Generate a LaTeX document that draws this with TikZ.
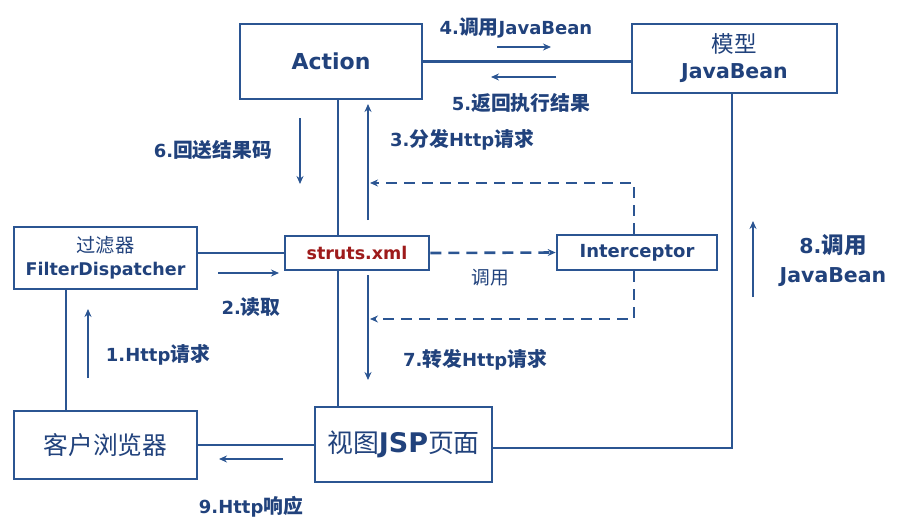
\documentclass[tikz,border=0pt]{standalone}
\usepackage{fontspec}
\setmainfont{DejaVu Sans}
\newfontfamily\cjk{Noto Sans CJK SC}[Scale=1.1]
\usepackage{xcolor}
\usetikzlibrary{arrows.meta,positioning}
\definecolor{lineblue}{HTML}{2B5592}
\definecolor{textblue}{HTML}{21427C}
\definecolor{xmlred}{HTML}{9E1B1B}
\newcommand{\zh}[1]{{\cjk #1}}

\begin{document}
\begin{tikzpicture}[x=1pt, y=-1pt,
  box/.style={draw=lineblue, line width=2.6pt, fill=white, inner sep=0pt, align=center, text=textblue},
  lbl/.style={text=textblue, font=\fontsize{18}{28}\selectfont\bfseries, align=center},
  link/.style={lineblue, line width=2.6pt},
  flow/.style={lineblue, line width=2.2pt, -{Stealth[length=8pt,width=7pt]}},
  dashflow/.style={lineblue, line width=2.6pt, dash pattern=on 11pt off 7pt, -{Stealth[length=8pt,width=7pt]}}]
  \useasboundingbox (0,0) rectangle (900,527);

  % boxes
  \node[box, minimum width=182pt, minimum height=75pt, font=\fontsize{22}{26}\selectfont\bfseries] (action) at (331,61.5) {Action};
  \node[box, minimum width=205pt, minimum height=69pt, font=\fontsize{20.5}{26}\selectfont] (model) at (734.5,58.5) {\zh{模型}\\\textbf{JavaBean}};
  \node[box, minimum width=183pt, minimum height=62pt, font=\fontsize{17.5}{23}\selectfont] (filter) at (105.5,258) {\zh{过滤器}\\\textbf{FilterDispatcher}};
  \node[box, minimum width=144pt, minimum height=34pt, text=xmlred, font=\fontsize{17.5}{20}\selectfont\bfseries] (struts) at (357,253) {struts.xml};
  \node[box, minimum width=160pt, minimum height=35pt, font=\fontsize{18}{20}\selectfont\bfseries] (inter) at (637,252.5) {Interceptor};
  \node[box, minimum width=183pt, minimum height=68pt, font=\fontsize{22.5}{24}\selectfont] (browser) at (105.5,445) {\zh{客户浏览器}};
  \node[box, minimum width=177pt, minimum height=75pt, font=\fontsize{23.5}{26}\selectfont] (jsp) at (403.5,444.5) {\zh{视图}\textbf{\fontsize{27}{30}\selectfont JSP}\zh{页面}};

  % links between boxes
  \draw[link] (action.east) -- (action.east -| model.west);
  \draw[link] (struts.west -| filter.east) -- (struts.west);
  \draw[link] (browser.east) -- (browser.east -| jsp.west);
  \coordinate (spine) at (338,0);
  \draw[link] (spine |- action.south) -- (spine |- struts.north);
  \draw[link] (spine |- struts.south) -- (spine |- jsp.north);
  \coordinate (lspine) at (66,0);
  \draw[link] (lspine |- filter.south) -- (lspine |- browser.north);
  \coordinate (rspine) at (732,448);
  \draw[link] (rspine |- model.south) -- (rspine) -- (rspine -| jsp.east);

  % interceptor loop
  \draw[dashflow] (struts.east) -- (inter.west);
  \coordinate (looptop) at (370,183);
  \coordinate (loopbot) at (370,319);
  \draw[dashflow] ([xshift=-3pt]inter.north) |- (looptop);
  \draw[dashflow] ([xshift=-3pt]inter.south) |- (loopbot);

  % numbered steps
  \coordinate (s1) at (88,378);  \coordinate (e1) at (88,309);
  \coordinate (s2) at (218,273); \coordinate (e2) at (279,273);
  \coordinate (s3) at (368,220); \coordinate (e3) at (368,104);
  \coordinate (s4) at (497,47);  \coordinate (e4) at (551,47);
  \coordinate (s5) at (556,77);  \coordinate (e5) at (491,77);
  \coordinate (s6) at (300,118); \coordinate (e6) at (300,184);
  \coordinate (s7) at (368,275); \coordinate (e7) at (368,380);
  \coordinate (s8) at (753,297); \coordinate (e8) at (753,221);
  \coordinate (s9) at (283,459); \coordinate (e9) at (219,459);
  \foreach \i in {1,...,9}
    \draw[flow] (s\i) -- (e\i);

  \node[lbl] (l1) at (158,355) {1.Http\zh{请求}};
  \node[lbl] (l2) at (251,307) {2.\zh{读取}};
  \node[lbl] (l3) at (462,140) {3.\zh{分发}Http\zh{请求}};
  \node[lbl] (l4) at (516,28) {4.\zh{调用}JavaBean};
  \node[lbl] (l5) at (521,103) {5.\zh{返回执行结果}};
  \node[lbl] (l6) at (213,150) {6.\zh{回送结果码}};
  \node[lbl] (l7) at (475,360) {7.\zh{转发}Http\zh{请求}};
  \node[lbl, font=\fontsize{20.5}{29}\selectfont\bfseries] (l8) at (833,261) {8.\zh{调用}\\JavaBean};
  \node[lbl] (l9) at (251,507) {9.Http\zh{响应}};
  \node[lbl, font=\fontsize{17}{20}\selectfont] (lcall) at (490,278) {\zh{调用}};
\end{tikzpicture}
\end{document}
